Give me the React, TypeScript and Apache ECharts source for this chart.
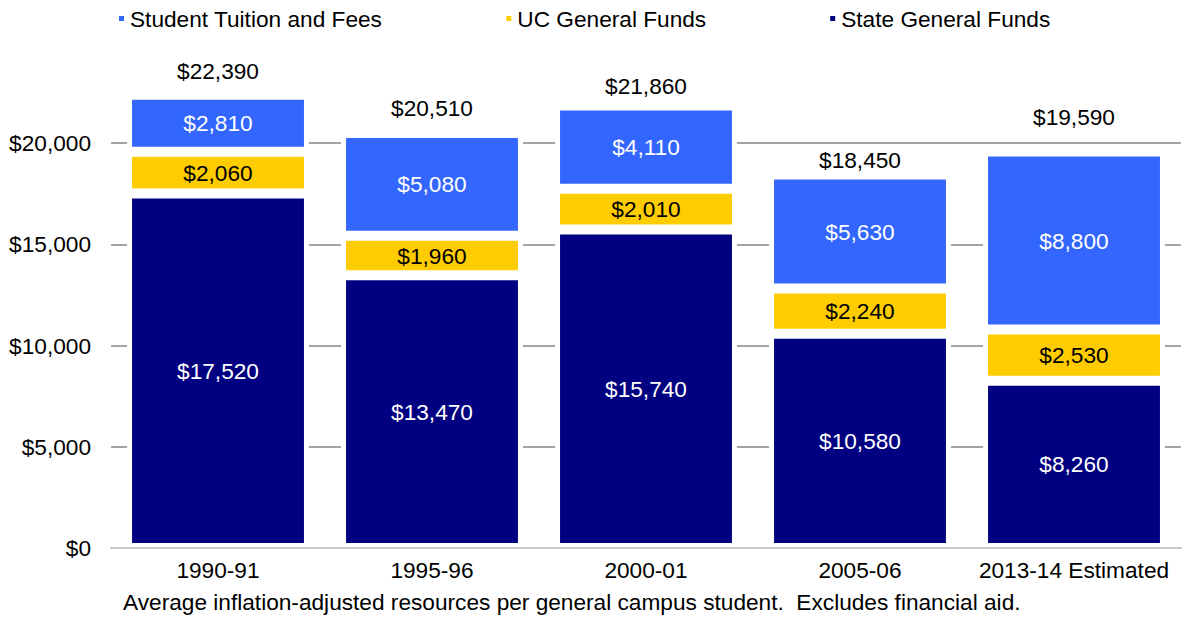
import React, { useEffect, useRef } from "react";
import * as echarts from "echarts";

const CATEGORIES = ["1990-91", "1995-96", "2000-01", "2005-06", "2013-14 Estimated"];
const STATE_FUNDS = [17520, 13470, 15740, 10580, 8260];
const UC_FUNDS = [2060, 1960, 2010, 2240, 2530];
const TUITION = [2810, 5080, 4110, 5630, 8800];
const Y_TICKS_MAX = 25000;
const Y_INTERVAL = 5000;
const CAPTION = "Average inflation-adjusted resources per general campus student.  Excludes financial aid.";

// label lift (px) above each bar's total, as placed in the original
const TOTAL_LABEL_LIFT = [12, 13, 8.5, 2.6, 22.5];

const FONT = "'Liberation Sans', Arial, sans-serif";
const FS = 22.67;
const fmt = (v: number) => "$" + v.toLocaleString("en-US");

export default function App() {
  const ref = useRef<HTMLDivElement>(null);
  useEffect(() => {
    if (!ref.current) return;
    const chart = echarts.init(ref.current, null, { renderer: "svg" });
    const totals = CATEGORIES.map((_, i) => STATE_FUNDS[i] + UC_FUNDS[i] + TUITION[i]);
    const segStyle = (color: string) => ({
      color,
      borderColor: "#ffffff",
      borderWidth: 5,
    });
    const segLabel = (color: string) => ({
      show: true,
      position: "inside",
      color,
      fontSize: FS,
      fontFamily: FONT,
      formatter: (p: any) => fmt(p.value),
    });
    chart.setOption({
      animation: false,
      textStyle: { fontFamily: FONT },
      title: {
        text: CAPTION,
        left: 118,
        top: 587,
        padding: [2, 5],
        textStyle: { fontSize: FS, fontWeight: "normal", color: "#000", fontFamily: FONT, lineHeight: 26 },
      },
      legend: {
        data: ["Student Tuition and Fees", "UC General Funds", "State General Funds"],
        left: 112,
        top: 2,
        icon: "rect",
        itemWidth: 7,
        itemHeight: 7,
        itemGap: 122,
        textStyle: { fontSize: FS, color: "#000", fontFamily: FONT },
      },
      grid: { left: 111, right: 1, top: 42, bottom: 72 },
      xAxis: {
        type: "category",
        data: CATEGORIES,
        z: 10,
        axisLine: { lineStyle: { color: "#c8c8c8", width: 2 } },
        axisTick: { show: false },
        axisLabel: { interval: 0, fontSize: FS, color: "#000", margin: 10, fontFamily: FONT },
      },
      yAxis: {
        type: "value",
        min: 0,
        max: Y_TICKS_MAX,
        interval: Y_INTERVAL,
        axisLine: { show: false },
        axisTick: { show: false },
        axisLabel: {
          fontSize: FS,
          color: "#000",
          margin: 20,
          fontFamily: FONT,
          formatter: (v: number) => (v > 20000 ? "" : fmt(v)),
        },
        splitLine: {
          show: true,
          showMinLine: false,
          showMaxLine: false,
          lineStyle: { color: "#868686", width: 1.5 },
        },
      },
      series: [
        {
          name: "State General Funds",
          type: "bar",
          stack: "total",
          barCategoryGap: "15%",
          data: STATE_FUNDS,
          itemStyle: segStyle("#000080"),
          label: segLabel("#ffffff"),
        },
        {
          name: "UC General Funds",
          type: "bar",
          stack: "total",
          data: UC_FUNDS,
          itemStyle: segStyle("#ffcc00"),
          label: segLabel("#000000"),
        },
        {
          name: "Student Tuition and Fees",
          type: "bar",
          stack: "total",
          data: TUITION,
          itemStyle: segStyle("#3366ff"),
          label: segLabel("#ffffff"),
        },
        {
          name: "Total",
          type: "scatter",
          symbolSize: 0,
          silent: true,
          itemStyle: { opacity: 1 },
          data: totals.map((t, i) => ({
            value: t,
            label: {
              show: true,
              position: "top",
              distance: 0,
              offset: [0, -TOTAL_LABEL_LIFT[i]],
              color: "#000",
              fontSize: FS,
              fontFamily: FONT,
              formatter: () => fmt(t),
            },
          })),
        },
      ],
    });
    return () => chart.dispose();
  }, []);
  return (
    <div
      ref={ref}
      style={{ position: "fixed", left: 0, top: 0, width: 1182, height: 620, background: "#fff" }}
    />
  );
}
